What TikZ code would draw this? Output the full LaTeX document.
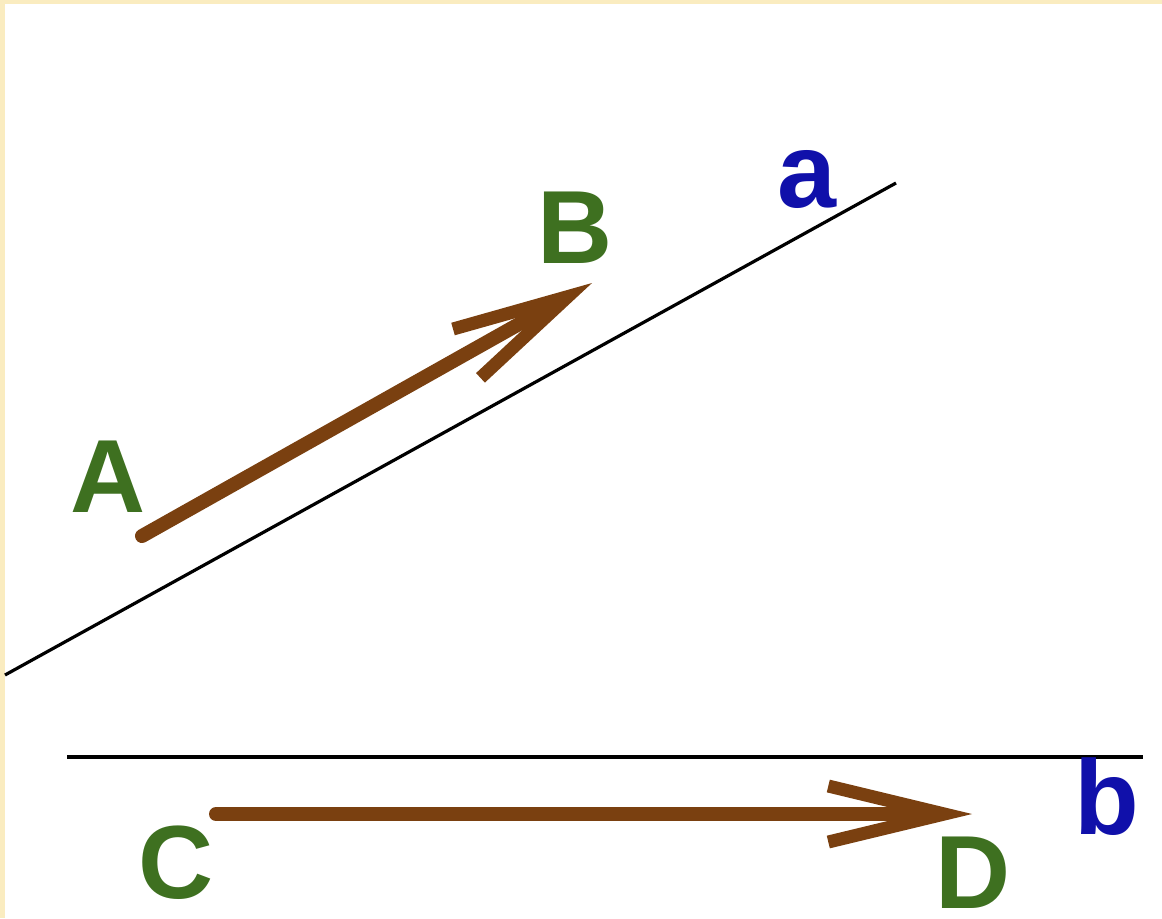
\documentclass[tikz,border=0pt]{standalone}
\usepackage{fontspec}
\setmainfont{Liberation Sans}
\usetikzlibrary{arrows.meta}
\definecolor{frame}{RGB}{250,236,192}
\definecolor{vecbrown}{RGB}{122,64,16}
\definecolor{ptgreen}{RGB}{62,112,32}
\definecolor{lnblue}{RGB}{16,16,170}
\tikzset{
  ptlabel/.style={anchor=base, inner sep=0pt, text depth=0pt, text=ptgreen, font=\fontsize{52}{60}\selectfont\bfseries},
  lnlabel/.style={anchor=base, inner sep=0pt, text depth=0pt, text=lnblue, font=\fontsize{53}{60}\selectfont\bfseries},
  vec/.style={draw=vecbrown, line width=7pt, line cap=round,
    -{Straight Barb[length=58pt, width=28pt, line width=6.5pt]}},
  thinline/.style={draw=black, line width=1.6pt},
}
\begin{document}
\begin{tikzpicture}[x=0.5pt, y=-0.5pt]
\useasboundingbox (0,0) rectangle (1162,918);
\fill[frame] (0,0) rectangle (1162,918);
\fill[white] (5,4) rectangle (1162,918);
% lines
\coordinate (a1) at (5,675);
\coordinate (a2) at (896,183);
\coordinate (b1) at (67,757);
\coordinate (b2) at (1143,757);
\draw[thinline] (a1) -- (a2);
\draw[thinline, line width=2pt] (b1) -- (b2);
% vector endpoints
\coordinate (pA) at (142,536);
\coordinate (pB) at (592,283);
\coordinate (pC) at (216,814);
\coordinate (pD) at (972,814);
\draw[vec] (pA) -- (pB);
\draw[vec] (pC) -- (pD);
% labels
\node[ptlabel] (lA) at (108,512) {A};
\node[ptlabel] (lB) at (575,263) {B};
\node[ptlabel] (lC) at (176,898) {C};
\node[ptlabel] (lD) at (973,908) {D};
\node[lnlabel] (la) at (807,207) {a};
\node[lnlabel] (lb) at (1107,834) {b};
\end{tikzpicture}
\end{document}
